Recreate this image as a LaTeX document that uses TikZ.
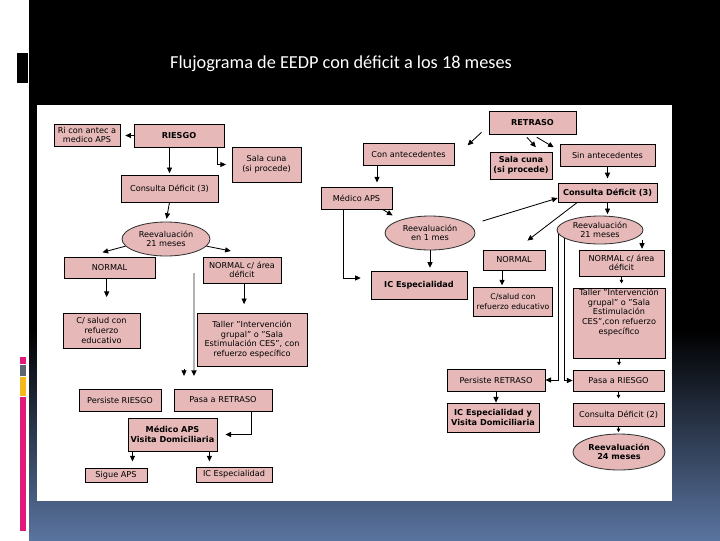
\documentclass[tikz,border=0pt]{standalone}
\usepackage{fontspec}
\setmainfont{DejaVu Sans}
\newfontfamily\titlefont{Carlito}
\usepackage{tikz}
\usetikzlibrary{arrows.meta,calc,positioning,shapes.geometric}
\definecolor{rosa}{HTML}{E6B9B8}
\definecolor{fondoazul}{HTML}{5A74A0}
\definecolor{barrarosa}{HTML}{E0197B}
\definecolor{barragris}{HTML}{5B6670}
\definecolor{barraamarillo}{HTML}{F6B91C}

\begin{document}
\begin{tikzpicture}[x=0.025cm,y=-0.025cm,
    caja/.style={draw=black, line width=0.6pt, fill=rosa, inner sep=0pt, align=center, font=\fontsize{5.8}{6.8}\selectfont},
    elipse/.style={ellipse, draw=black!80, line width=0.6pt, fill=rosa, inner sep=0pt, align=center, font=\fontsize{5.8}{6.8}\selectfont},
    tam/.style 2 args={minimum width=#1*0.025cm, minimum height=#2*0.025cm},
    txt/.style={align=center, inner sep=1pt, font=\fontsize{5.8}{6.8}\selectfont},
    flecha/.style={-{Triangle[length=4pt,width=3.6pt]}, line width=0.6pt},
    flechita/.style={-{Triangle[length=2.5pt,width=2.6pt]}, line width=0.5pt},
    gris/.style={-{Triangle[length=4pt,width=3.6pt,black]}, line width=1.1pt, draw=black!30}]
      \useasboundingbox (0,0) rectangle (720,540);
      % slide background
      \fill[white] (0,0) rectangle (720,540);
      \fill[black] (29,0) rectangle (720,331);
      \shade[top color=black, bottom color=fondoazul] (29,330) rectangle (720,540);
      \fill[black] (17,53) rectangle (28,83);
      \fill[barrarosa] (20,357) rectangle (26,364);
      \fill[barragris] (20,365) rectangle (26,376);
      \fill[barraamarillo] (20,377) rectangle (26,396);
      \fill[barrarosa] (20,397) rectangle (26,531);
      \node[text=white, font=\titlefont\fontsize{13}{15}\selectfont] (titulo) at (341,64) {Flujograma de EEDP con déficit a los 18 meses};
      % white sheet
      \fill[white] (37,105) rectangle (672,501);

      % left branch
      \node[caja, tam={66}{22}] (riA) at (87,135) {Ri con antec a\\medico APS};
      \node[caja, tam={90}{23}] (riesgo) at (179,135.5) {\bfseries RIESGO};
      \node[caja, tam={69}{35}] (salaA) at (266.5,164.5) {Sala cuna\\(si procede)};
      \node[caja, tam={97}{27}] (consA) at (169.5,188.5) {Consulta Déficit (3)};
      \node[elipse, tam={88}{34}] (reeA) at (166,239) {Reevaluación\\21 meses};
      \node[caja, tam={91}{21}] (normA) at (109.5,267.5) {NORMAL};
      \node[caja, tam={78}{26}] (normdA) at (242,270) {NORMAL c/ área\\déficit};
      \node[caja, tam={77}{35}] (saludA) at (101.5,330.5) {C/ salud con\\refuerzo\\educativo};
      \node[caja, tam={110}{53}] (tallerA) at (252,339.5) {Taller "Intervención\\grupal" o "Sala\\Estimulación CES", con\\refuerzo específico};
      \node[caja, tam={82}{22}] (persA) at (120,400) {Persiste RIESGO};
      \node[caja, tam={98}{22}] (pasaA) at (223,400) {Pasa a RETRASO};
      \node[caja, tam={89}{33}] (medA) at (172.5,434.5) {\bfseries Médico APS\\\bfseries Visita Domiciliaria};
      \node[caja, tam={62}{14}] (sigue) at (116,475) {Sigue APS};
      \node[caja, tam={76}{15}] (icA) at (234,474.5) {IC Especialidad};

      % middle branch
      \node[caja, tam={91}{22}] (conant) at (408.5,154) {Con antecedentes};
      \node[caja, tam={71}{22}] (medB) at (356.5,198) {Médico APS};
      \node[elipse, tam={90}{34}] (reeB) at (430,233) {Reevaluación\\en 1 mes};
      \node[caja, tam={96}{28}] (icB) at (419,285) {\bfseries IC Especialidad};
      \node[caja, tam={62}{20}] (normB) at (514,260) {NORMAL};
      \node[caja, tam={79}{29}, font=\fontsize{5.5}{6.6}\selectfont] (saludB) at (513,301.5) {C/salud con\\refuerzo educativo};
      \node[caja, tam={98}{22}] (persB) at (496,380) {Persiste RETRASO};
      \node[caja, tam={92}{29}] (icvB) at (493,417.5) {\bfseries IC Especialidad y\\\bfseries Visita Domiciliaria};

      % right branch
      \node[caja, tam={87}{23}] (retraso) at (532.5,122.5) {\bfseries RETRASO};
      \node[caja, tam={62}{27}] (salaB) at (521,165.5) {\bfseries Sala cuna\\\bfseries (si procede)};
      \node[caja, tam={95}{22}] (sinant) at (607.5,155) {Sin antecedentes};
      \node[caja, tam={99}{19}] (consB) at (607.5,192.5) {\bfseries Consulta Déficit (3)};
      \node[elipse, tam={86}{28}] (reeC) at (600,230) {Reevaluación\\21 meses};
      \node[caja, tam={85}{26}] (normdC) at (621.5,263) {NORMAL c/ área\\déficit};
      \node[caja, tam={92}{70}, label={[txt, anchor=north]north:{Taller "Intervención\\grupal" o "Sala\\Estimulación\\CES",con refuerzo\\específico}}] (tallerC) at (619,323) {};
      \node[caja, tam={91}{21}] (pasaC) at (618.5,380.5) {Pasa a RIESGO};
      \node[caja, tam={91}{23}] (consC) at (618.5,414.5) {Consulta Déficit (2)};
      \node[elipse, tam={92}{36}] (reeD) at (619,452) {\bfseries Reevaluación\\\bfseries 24 meses};

      % arrows left
      \draw[flecha, shorten >=3.5pt] (riesgo.west) -- (riesgo.west -| riA.east);
      \draw[flecha, shorten >=4pt] ([xshift=-5pt]riesgo.south east) |- (salaA.west);
      \draw[flecha, shorten >=1pt] (consA.north |- riesgo.south) -- (consA.north);
      \draw[flecha, shorten >=2pt] (consA.south) -- (reeA.north);
      \draw[flecha] (reeA.190) -- ([xshift=-5pt,yshift=3pt]normA.north);
      \draw[flecha] (reeA.-10) -- ([xshift=-8pt,yshift=4pt]normdA.north);
      \draw[flecha, shorten >=11pt] ([xshift=-2pt]normA.south) -- ([xshift=-2pt]normA.south |- saludA.north);
      \draw[flecha, shorten >=6pt] ([xshift=1.5pt]normdA.south) -- ([xshift=1.5pt]normdA.south |- tallerA.north);
      \coordinate (gtop) at (194,273);
      \draw[gris, shorten >=9pt] (gtop) -- (gtop |- pasaA.north);
      \coordinate (solo) at (184,369);
      \draw[flecha, shorten >=9pt] (solo) -- (solo |- pasaA.north);
      \draw[flecha, shorten >=5.7pt] ([xshift=-15pt]pasaA.south east) |- (medA.east);
      \draw[flecha] ([xshift=3.5pt]medA.south west) -- ++(0,10);
      \draw[flecha] ([xshift=-5.7pt]medA.south east) -- ++(0,10);

      % arrows middle and right
      \draw[flecha] ([xshift=-5pt,yshift=1.5pt]retraso.south west) -- ++(-14,13);
      \draw[flecha] ([xshift=-4pt,yshift=-2pt]retraso.south) -- ++(9,10);
      \draw[flecha] ([xshift=3pt,yshift=-2pt]retraso.south) -- ++(17,10);
      \draw[flecha] ([xshift=-22.4pt]conant.south) -- ++(0,17);
      \draw[flecha] ([xshift=-7pt]medB.south east) -- ++(10,6);
      \draw[flecha, shorten >=7pt] ([xshift=-9.6pt]medB.south) |- ([yshift=5pt]icB.west);
      \draw[flecha, shorten >=2pt] (reeB.south) -- (reeB.south |- icB.north);
      \draw[flecha] ([xshift=14pt]reeB.20) -- ([yshift=-4pt]consB.west);
      \draw[flecha] ([xshift=14pt]consB.south west) -- ([xshift=-12.8pt,yshift=6.4pt]normB.north east);
      \draw[flecha, shorten >=3pt] (sinant.south) -- (sinant.south |- consB.north);
      \draw[flecha, shorten >=1pt] (consB.south) -- (consB.south |- reeC.north);
      \draw[flecha] ([xshift=-1pt,yshift=-7pt]reeC.east) -- ++(0,9);
      \draw[flecha] ([xshift=-8.5pt]normB.south) -- ++(0,15);
      \draw[flecha] (reeC.186) |- (persB.east);
      \draw[flecha] (reeC.193) |- (pasaC.west);
      \draw[flecha] (persB.south) -- (persB.south |- icvB.north);
      \draw[flechita, shorten >=3pt] (normdC.south) -- (normdC.south |- tallerC.north);
      \draw[flechita, shorten >=3pt] (tallerC.south) -- (tallerC.south |- pasaC.north);
      \draw[flechita, shorten >=3pt] (pasaC.south) -- (pasaC.south |- consC.north);
      \draw[flechita, shorten >=1pt] (consC.south) -- (consC.south |- reeD.north);
\end{tikzpicture}
\end{document}
